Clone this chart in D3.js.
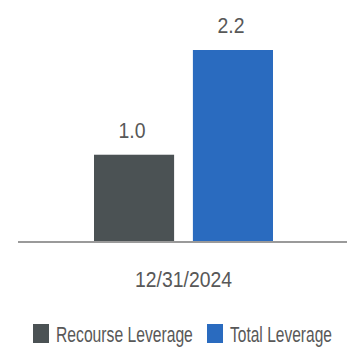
<!DOCTYPE html>
<html>
<head>
<meta charset="utf-8">
<script src="https://cdn.jsdelivr.net/npm/d3@7"></script>
<style>
  html, body { margin: 0; padding: 0; background: #fff; }
  svg { display: block; }
  text { font-family: "Liberation Sans", Arial, sans-serif; fill: #585858; }
</style>
</head>
<body>
<div id="chart"></div>
<script>
// Leverage at period end, two series side by side
const categories = ["12/31/2024"];
const seriesNames = ["Recourse Leverage", "Total Leverage"];
const recourseLeverage = [1.0];
const totalLeverage = [2.2];
const colors = ["#4b5254", "#2a6bbf"];

const W = 347, H = 347;
const svg = d3.select("#chart").append("svg").attr("width", W).attr("height", H);

const baseY = 242;
const plotLeft = 18, plotRight = 347;

// Place a text at (x, y) and squeeze it horizontally to a given width (condensed face look)
function condense(sel, x, y, width) {
  sel.each(function(d, i) {
    const node = this;
    const px = typeof x === "function" ? x(d, i) : x;
    const py = typeof y === "function" ? y(d, i) : y;
    const w = typeof width === "function" ? width(d, i) : width;
    node.setAttribute("x", 0);
    node.setAttribute("y", 0);
    node.removeAttribute("dy");
    const natural = node.getComputedTextLength() || w;
    node.setAttribute("transform", `translate(${px},${py}) scale(${w / natural},1)`);
  });
}

const x0 = d3.scaleBand().domain(categories).range([94, 273]).paddingInner(0);
const x1 = d3.scaleBand().domain(seriesNames).range([0, x0.bandwidth()]).paddingInner(0.19).paddingOuter(0);
const y = d3.scaleLinear().domain([0, 2.2]).range([baseY, 50]);

const rows = categories.map((c, i) => ({
  cat: c,
  values: [
    { name: seriesNames[0], v: recourseLeverage[i], color: colors[0] },
    { name: seriesNames[1], v: totalLeverage[i], color: colors[1] }
  ]
}));

const g = svg.selectAll("g.cat").data(rows).join("g")
  .attr("class", "cat")
  .attr("transform", d => `translate(${x0(d.cat)},0)`);

g.selectAll("rect").data(d => d.values).join("rect")
  .attr("x", d => x1(d.name))
  .attr("width", x1.bandwidth())
  .attr("y", d => y(d.v))
  .attr("height", d => baseY - y(d.v))
  .attr("fill", d => d.color);

g.selectAll("text.val").data(d => d.values).join("text")
  .attr("class", "val")
  .attr("text-anchor", "middle")
  .attr("font-size", 22)
  .text(d => d.v.toFixed(1))
  .call(condense, d => x1(d.name) + x1.bandwidth() / 2 - 2, d => y(d.v) - 17, 27);

// baseline
svg.append("line")
  .attr("x1", plotLeft).attr("x2", plotRight)
  .attr("y1", baseY).attr("y2", baseY)
  .attr("stroke", "#9a9a9a").attr("stroke-width", 2);

// category axis label
const xAxis = svg.append("g").attr("transform", `translate(0,${baseY})`)
  .call(d3.axisBottom(x0).tickSize(0).tickPadding(0));
xAxis.select(".domain").remove();
xAxis.selectAll("text")
  .attr("font-size", 23)
  .attr("fill", "#585858")
  .attr("font-family", "Liberation Sans, Arial, sans-serif")
  .call(condense, 0, 44.5, 97);

// legend
const legendItems = [
  { name: seriesNames[0], color: colors[0], x: 33, w: 137 },
  { name: seriesNames[1], color: colors[1], x: 207, w: 102 }
];
const lg = svg.selectAll("g.leg").data(legendItems).join("g")
  .attr("class", "leg")
  .attr("transform", d => `translate(${d.x},324)`);
lg.append("rect").attr("width", 16).attr("height", 19).attr("fill", d => d.color);
lg.append("text")
  .attr("font-size", 22.5)
  .text(d => d.name)
  .call(condense, 23, 18, d => d.w);
</script>
</body>
</html>
